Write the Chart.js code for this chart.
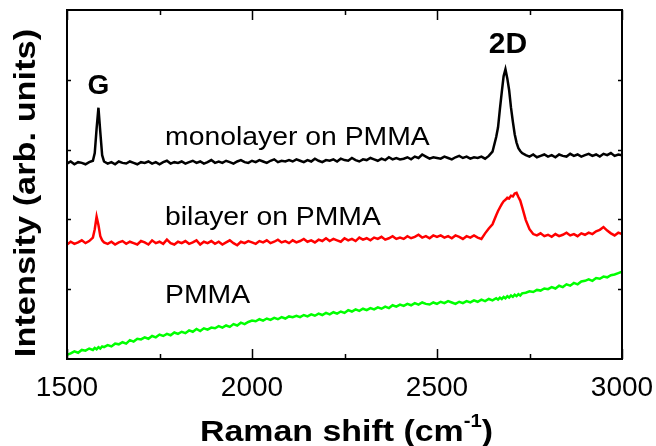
<!DOCTYPE html>
<html>
<head>
<meta charset="utf-8">
<script src="https://cdn.jsdelivr.net/npm/chart.js@4.4.0/dist/chart.umd.min.js"></script>
<style>
  html, body { margin: 0; padding: 0; background: #fff; }
</style>
</head>
<body>
<canvas id="raman" width="656" height="446"></canvas>
<script>
// Raman spectra of graphene on PMMA (arb. units)
const shift = [
  1500, 1510, 1520, 1530, 1540, 1550, 1560, 1570,
  1575, 1580, 1585, 1590, 1595, 1600,
  1610, 1620, 1630, 1640, 1650, 1660, 1670, 1680, 1690, 1700,
  1710, 1720, 1730, 1740, 1750, 1760, 1770, 1780, 1790, 1800,
  1810, 1820, 1830, 1840, 1850, 1860, 1870, 1880, 1890, 1900,
  1910, 1920, 1930, 1940, 1950, 1960, 1970, 1980, 1990, 2000,
  2010, 2020, 2030, 2040, 2050, 2060, 2070, 2080, 2090, 2100,
  2110, 2120, 2130, 2140, 2150, 2160, 2170, 2180, 2190, 2200,
  2210, 2220, 2230, 2240, 2250, 2260, 2270, 2280, 2290, 2300,
  2310, 2320, 2330, 2340, 2350, 2360, 2370, 2380, 2390, 2400,
  2410, 2420, 2430, 2440, 2450, 2460, 2470, 2480, 2490, 2500,
  2510, 2520, 2530, 2540, 2550, 2560, 2570, 2580, 2590, 2600,
  2610, 2620, 2630, 2640, 2650, 2660,
  2665, 2670, 2675, 2680, 2685, 2690, 2695, 2700, 2705, 2710, 2715, 2720, 2725, 2730,
  2740, 2750, 2760, 2770, 2780, 2790, 2800,
  2810, 2820, 2830, 2840, 2850, 2860, 2870, 2880, 2890, 2900,
  2910, 2920, 2930, 2940, 2950, 2960, 2970, 2980, 2990, 3000
];

const monolayer = [
  2.80, 2.83, 2.79, 2.82, 2.81, 2.79, 2.82, 2.84,
  2.95, 3.30, 3.60, 3.25, 2.92, 2.83,
  2.80, 2.82, 2.79, 2.83, 2.81, 2.80, 2.83, 2.81, 2.79, 2.82,
  2.81, 2.83, 2.80, 2.82, 2.79, 2.82, 2.84, 2.80, 2.82, 2.81,
  2.83, 2.80, 2.82, 2.84, 2.81, 2.83, 2.80, 2.82, 2.85, 2.81,
  2.83, 2.81, 2.84, 2.82, 2.80, 2.83, 2.85, 2.82, 2.81, 2.84,
  2.82, 2.85, 2.83, 2.81, 2.84, 2.86, 2.82, 2.84, 2.83, 2.85,
  2.83, 2.86, 2.84, 2.82, 2.85, 2.83, 2.87, 2.84, 2.82, 2.85,
  2.84, 2.86, 2.83, 2.87, 2.85, 2.84, 2.88, 2.85, 2.83, 2.86,
  2.85, 2.88, 2.86, 2.84, 2.87, 2.85, 2.89, 2.86, 2.88, 2.86,
  2.87, 2.89, 2.86, 2.90, 2.88, 2.93, 2.90, 2.87, 2.89, 2.88,
  2.87, 2.90, 2.88, 2.86, 2.89, 2.91, 2.88, 2.90, 2.87, 2.89,
  2.88, 2.90, 2.87, 2.91, 2.97, 3.18,
  3.32, 3.58, 3.82, 4.05, 4.15, 4.02, 3.85, 3.60, 3.40, 3.22, 3.10, 3.02, 2.98, 2.95,
  2.92, 2.90, 2.93, 2.89, 2.91, 2.93, 2.90,
  2.92, 2.89, 2.93, 2.91, 2.90, 2.94, 2.91, 2.93, 2.90, 2.92,
  2.94, 2.91, 2.93, 2.90, 2.94, 2.92, 2.95, 2.91, 2.93, 2.92
];

const bilayer = [
  1.64, 1.68, 1.65, 1.67, 1.70, 1.66, 1.69, 1.74,
  1.86, 2.04, 1.92, 1.76, 1.70, 1.67,
  1.65, 1.68, 1.64, 1.67, 1.69, 1.65, 1.68, 1.66, 1.64, 1.69,
  1.67, 1.64, 1.70, 1.66, 1.68, 1.65, 1.71, 1.66, 1.64, 1.68,
  1.66, 1.69, 1.65, 1.67, 1.70, 1.64, 1.68, 1.66, 1.69, 1.65,
  1.68, 1.64, 1.67, 1.70, 1.66, 1.63, 1.68, 1.66, 1.69, 1.67,
  1.65, 1.69, 1.67, 1.70, 1.66, 1.68, 1.71, 1.67, 1.69, 1.66,
  1.70, 1.67, 1.69, 1.72, 1.68, 1.70, 1.67, 1.71, 1.69, 1.73,
  1.69, 1.72, 1.70, 1.68, 1.73, 1.70, 1.72, 1.69, 1.74, 1.71,
  1.73, 1.70, 1.74, 1.72, 1.75, 1.71, 1.73, 1.76, 1.72, 1.74,
  1.72, 1.76, 1.73, 1.75, 1.78, 1.74, 1.76, 1.73, 1.77, 1.75,
  1.77, 1.74, 1.76, 1.73, 1.77, 1.75, 1.72, 1.76, 1.74, 1.77,
  1.74, 1.72, 1.80, 1.87, 1.93, 2.06,
  2.12, 2.17, 2.22, 2.26, 2.28, 2.31, 2.30, 2.34, 2.33, 2.37, 2.38, 2.32, 2.27, 2.18,
  1.99, 1.86, 1.79, 1.77, 1.80, 1.76, 1.78,
  1.75, 1.79, 1.76, 1.78, 1.81, 1.77, 1.79, 1.76, 1.80, 1.78,
  1.81, 1.79, 1.83, 1.85, 1.89, 1.84, 1.80, 1.77, 1.81, 1.79
];

const pmma = [
  0.06, 0.08, 0.11, 0.09, 0.13, 0.12, 0.15, 0.13,
  0.16, 0.14, 0.17, 0.15, 0.18, 0.17,
  0.20, 0.18, 0.22, 0.21, 0.24, 0.22, 0.27, 0.25, 0.29, 0.28,
  0.31, 0.29, 0.33, 0.31, 0.35, 0.33, 0.36, 0.34, 0.38, 0.36,
  0.39, 0.37, 0.41, 0.39, 0.43, 0.40, 0.44, 0.42, 0.45, 0.44,
  0.47, 0.45, 0.48, 0.46, 0.50, 0.48, 0.52, 0.50, 0.53, 0.55,
  0.54, 0.57, 0.55, 0.58, 0.56, 0.59, 0.57, 0.60, 0.58, 0.61,
  0.60, 0.62, 0.60, 0.63, 0.61, 0.64, 0.62, 0.65, 0.63, 0.66,
  0.64, 0.67, 0.65, 0.68, 0.66, 0.70, 0.68, 0.71, 0.69, 0.72,
  0.70, 0.73, 0.71, 0.74, 0.72, 0.75, 0.73, 0.77, 0.75, 0.78,
  0.76, 0.79, 0.77, 0.80, 0.78, 0.81, 0.79, 0.78, 0.81, 0.79,
  0.82, 0.80, 0.83, 0.81, 0.79, 0.82, 0.80, 0.83, 0.81, 0.84,
  0.82, 0.85, 0.83, 0.86, 0.84, 0.87,
  0.85, 0.88, 0.86, 0.89, 0.87, 0.90, 0.88, 0.91, 0.89, 0.92, 0.90, 0.93, 0.91, 0.94,
  0.95, 0.97, 0.96, 0.99, 0.98, 1.01, 1.00,
  1.03, 1.01, 1.05, 1.03, 1.07, 1.05, 1.09, 1.07, 1.11, 1.12,
  1.14, 1.12, 1.16, 1.15, 1.18, 1.17, 1.20, 1.21, 1.23, 1.25
];

const xMajorTicks = [1500, 2000, 2500, 3000];
const xMinorTicks = [1750, 2250, 2750];
const yTicks = [1, 2, 3, 4];

const FONT = "'Liberation Sans', Arial, sans-serif";

function toPoints(ys) {
  return shift.map((x, i) => ({ x: x, y: ys[i] }));
}

// text drawn a little wider than the font, like the original figure
function wideText(ctx, text, x, y, stretch) {
  ctx.save();
  ctx.translate(x, y);
  ctx.scale(stretch, 1);
  ctx.fillText(text, 0, 0);
  ctx.restore();
}

// Box, inward ticks, peak/sample labels and axis titles
const framePlugin = {
  id: 'frame',
  afterDraw(chart) {
    const { ctx, chartArea: a, scales: { x, y } } = chart;
    ctx.save();
    ctx.strokeStyle = '#000';
    ctx.lineWidth = 2;
    ctx.strokeRect(a.left, a.top, a.right - a.left, a.bottom - a.top);

    ctx.lineWidth = 1.5;
    ctx.beginPath();
    const xTick = (v, len) => {
      const px = Math.round(x.getPixelForValue(v)) + 0.5;
      ctx.moveTo(px, a.bottom); ctx.lineTo(px, a.bottom - len);
      ctx.moveTo(px, a.top); ctx.lineTo(px, a.top + len);
    };
    xMajorTicks.forEach(v => xTick(v, 10));
    xMinorTicks.forEach(v => xTick(v, 5));
    yTicks.forEach(v => {
      const py = Math.round(y.getPixelForValue(v)) + 0.5;
      ctx.moveTo(a.left, py); ctx.lineTo(a.left + 4, py);
      ctx.moveTo(a.right, py); ctx.lineTo(a.right - 4, py);
    });
    ctx.stroke();

    ctx.fillStyle = '#000';
    ctx.textBaseline = 'alphabetic';

    // peak names
    ctx.textAlign = 'center';
    ctx.font = 'bold 28px ' + FONT;
    ctx.fillText('G', x.getPixelForValue(1585), y.getPixelForValue(3.79));
    ctx.font = 'bold 30px ' + FONT;
    ctx.fillText('2D', x.getPixelForValue(2692), y.getPixelForValue(4.38));

    // sample names
    ctx.textAlign = 'left';
    ctx.font = '26px ' + FONT;
    wideText(ctx, 'monolayer on PMMA', x.getPixelForValue(1765), y.getPixelForValue(3.07), 1.09);
    wideText(ctx, 'bilayer on PMMA', x.getPixelForValue(1765), y.getPixelForValue(1.92), 1.09);
    wideText(ctx, 'PMMA', x.getPixelForValue(1765), y.getPixelForValue(0.80), 1.09);

    // x title with superscript
    const stretch = 1.13;
    const main = 'Raman shift (cm', sup = '-1', tail = ')';
    ctx.font = 'bold 30px ' + FONT;
    const wMain = ctx.measureText(main).width, wTail = ctx.measureText(tail).width;
    ctx.font = 'bold 18px ' + FONT;
    const wSup = ctx.measureText(sup).width;
    const total = (wMain + wSup + wTail) * stretch;
    let tx = (a.left + a.right) / 2 + 2 - total / 2;
    const ty = 441;
    ctx.font = 'bold 30px ' + FONT;
    wideText(ctx, main, tx, ty, stretch);
    tx += wMain * stretch;
    ctx.font = 'bold 18px ' + FONT;
    wideText(ctx, sup, tx, ty - 14, stretch);
    tx += wSup * stretch;
    ctx.font = 'bold 30px ' + FONT;
    wideText(ctx, tail, tx, ty, stretch);

    // y title
    ctx.translate(35, 193);
    ctx.rotate(-Math.PI / 2);
    ctx.textAlign = 'center';
    wideText(ctx, 'Intensity (arb. units)', 0, 0, 1.145);
    ctx.restore();
  }
};

new Chart(document.getElementById('raman'), {
  type: 'line',
  data: {
    datasets: [
      { label: 'monolayer on PMMA', data: toPoints(monolayer), borderColor: '#000000' },
      { label: 'bilayer on PMMA', data: toPoints(bilayer), borderColor: '#ff0000' },
      { label: 'PMMA', data: toPoints(pmma), borderColor: '#00ff00' }
    ]
  },
  options: {
    responsive: false,
    animation: false,
    events: [],
    layout: { padding: { top: 10, right: 34, left: 0, bottom: 0 } },
    elements: {
      line: { borderWidth: 2.5, tension: 0 },
      point: { radius: 0 }
    },
    plugins: {
      legend: { display: false },
      tooltip: { enabled: false }
    },
    scales: {
      x: {
        type: 'linear',
        min: 1500,
        max: 3000,
        grid: { display: false },
        border: { display: false },
        afterFit: s => { s.height = 87; s.paddingLeft = 0; s.paddingRight = 0; },
        afterBuildTicks: s => { s.ticks = xMajorTicks.map(v => ({ value: v })); },
        ticks: {
          color: '#000',
          padding: 4,
          maxRotation: 0,
          font: { family: FONT, size: 28 },
          callback: v => String(v)
        }
      },
      y: {
        type: 'linear',
        min: 0,
        max: 5,
        grid: { display: false },
        border: { display: false },
        ticks: { display: false },
        afterFit: s => { s.width = 67; }
      }
    }
  },
  plugins: [framePlugin]
});
</script>
</body>
</html>
